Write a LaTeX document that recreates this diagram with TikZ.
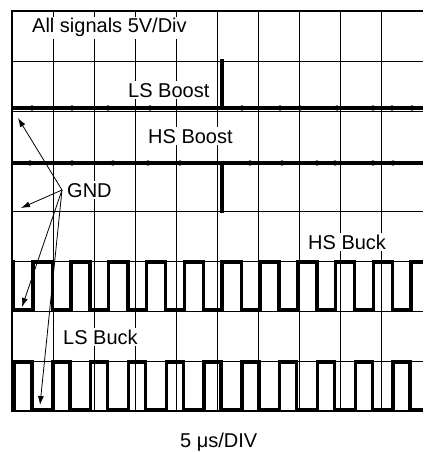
\documentclass[tikz,border=0pt]{standalone}
\usepackage{fontspec}
\setmainfont{Liberation Sans}
\usetikzlibrary{arrows.meta}
\begin{document}
\begin{tikzpicture}[x=1pt,y=-1pt,
  gridline/.style={black,line width=0.9pt},
  frameline/.style={black,line width=1.6pt},
  trace/.style={black,line width=3.4pt,line join=miter},
  bump/.style={fill=black},
  sigtext/.style={fill=white,inner sep=2pt,font=\fontsize{20pt}{24pt}\selectfont,anchor=base west},
  gndarrow/.style={black,line width=0.8pt,-{Latex[length=9pt,width=6pt]}}]
\useasboundingbox (0,0) rectangle (423,452);
% grid
\foreach \i in {1,...,9} \draw[gridline] ({12+41*\i},11) -- ({12+41*\i},411);
\foreach \j in {1,...,7} \draw[gridline] (12,{11+50*\j}) -- (423,{11+50*\j});
\draw[frameline] (423,11) -- (12,11) -- (12,411) -- (423,411);
% labels with white background
\node[sigtext] (all) at (30,33) {All signals 5V/Div};
\node[sigtext] (lsboost) at (126,97) {LS Boost};
\node[sigtext] (hsboost) at (146,143) {HS Boost};
\node[sigtext] (gnd) at (65,197) {GND};
\node[sigtext] (hsbuck) at (306,249) {HS Buck};
\node[sigtext] (lsbuck) at (61,344) {LS Buck};
\node[sigtext,fill=none] (time) at (178,447) {5 μs/DIV};
% LS Boost trace
\draw[trace] (12,108) -- (423,108);
\draw[trace] (222,108) -- (222,59);
\foreach \x in {32,72,108,150,242,280,300,337,373,392,412} \fill[bump] (\x,108) ellipse (2.8 and 2.6);
% HS Boost trace
\draw[trace] (12,163) -- (423,163);
\draw[trace] (222,163) -- (222,213);
\foreach \x in {30,72,113,148,180,250,282,317,335,373,393} \fill[bump] (\x,163) ellipse (2.8 and 2.6);
% HS Buck square wave
\draw[trace] (12,262) -- (13.7,262) -- (13.7,310)
  \foreach \k in {0,...,9}{ -- ({33+37.8*\k},310) -- ({33+37.8*\k},262) -- ({52.3+37.8*\k},262) -- ({52.3+37.8*\k},310) }
  -- (411,310) -- (411,262) -- (423,262);
% LS Buck square wave
\draw[trace] (12,410) -- (14.5,410) -- (14.5,362)
  \foreach \k in {0,...,9}{ -- ({32+37.8*\k},362) -- ({32+37.8*\k},410) -- ({52.8+37.8*\k},410) -- ({52.8+37.8*\k},362) }
  -- (410,362) -- (410,410) -- (423,410);
% GND arrows
\coordinate (g) at (62,190);
\coordinate (t1) at (18,118);
\coordinate (t2) at (21,208);
\coordinate (t3) at (22,307);
\coordinate (t4) at (40,405);
\foreach \t in {t1,t2,t3,t4} \draw[gndarrow] (g) -- (\t);
\end{tikzpicture}
\end{document}
